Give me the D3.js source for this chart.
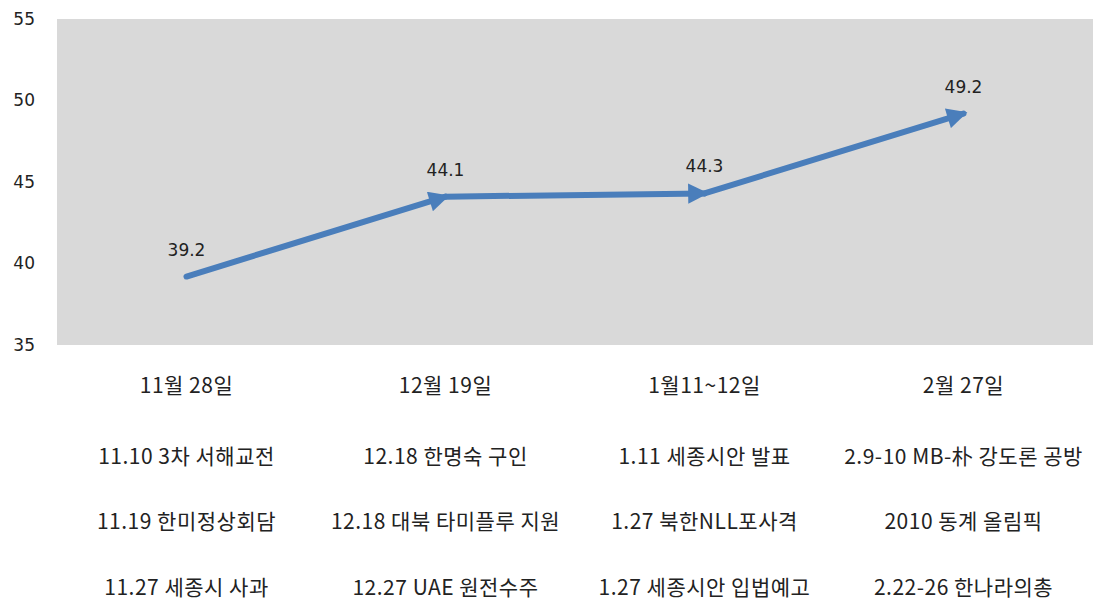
<!DOCTYPE html>
<html>
<head>
<meta charset="utf-8">
<script src="https://cdn.jsdelivr.net/npm/d3@7"></script>
<style>
  body { margin: 0; background: #fff; }
  svg text { font-family: "Noto Sans CJK KR", "Noto Sans", sans-serif; fill: #222; }
</style>
</head>
<body>
<svg id="chart" width="1093" height="603"></svg>
<script>
// 데이터
const categories = ["11월 28일", "12월 19일", "1월11~12일", "2월 27일"]
const values = [39.2, 44.1, 44.3, 49.2]
const events1 = ["11.10 3차 서해교전", "12.18 한명숙 구인", "1.11 세종시안 발표", "2.9-10 MB-朴 강도론 공방"]
const events2 = ["11.19 한미정상회담", "12.18 대북 타미플루 지원", "1.27 북한NLL포사격", "2010 동계 올림픽"]
const events3 = ["11.27 세종시 사과", "12.27 UAE 원전수주", "1.27 세종시안 입법예고", "2.22-26 한나라의총"]
const yTicks = [35, 40, 45, 50, 55]

const width = 1093, height = 603
const margin = { top: 19, right: 0, bottom: 258, left: 57 }
const svg = d3.select("#chart")

const xScale = d3.scaleBand()
    .domain(categories)
    .range([margin.left, width - margin.right])
const yScale = d3.scaleLinear()
    .domain([35, 55])
    .range([height - margin.bottom, margin.top])

// 배경
svg.append("rect")
    .attr("x", margin.left)
    .attr("y", margin.top)
    .attr("width", width - margin.left - margin.right)
    .attr("height", yScale(35) - yScale(55))
    .attr("fill", "#d9d9d9")

// y축
let yAxis = svg.append("g")
    .attr("transform", "translate(35,0)")
    .call(d3.axisLeft(yScale).tickValues(yTicks).tickSize(0).tickPadding(0))
yAxis.select(".domain").remove()
yAxis.selectAll("text").style("font-size", "17px").style("font-family", "'DejaVu Sans', sans-serif")

// 화살표
svg.append("defs").append("marker")
    .attr("id", "arrow")
    .attr("viewBox", "0 0 10 10")
    .attr("refX", 8)
    .attr("refY", 5)
    .attr("markerWidth", 3.8)
    .attr("markerHeight", 3.4)
    .attr("orient", "auto")
    .append("path")
    .attr("d", "M0,0 L10,5 L0,10 z")
    .attr("fill", "#4a7ebb")

const cx = d => xScale(d) + xScale.bandwidth() / 2
const pts = categories.map((c, i) => [cx(c), yScale(values[i])])

// 선분
svg.selectAll(".seg")
    .data(d3.pairs(pts))
    .enter()
    .append("line")
    .attr("class", "seg")
    .attr("x1", d => d[0][0])
    .attr("y1", d => d[0][1])
    .attr("x2", d => d[1][0])
    .attr("y2", d => d[1][1])
    .attr("stroke", "#4a7ebb")
    .attr("stroke-width", 6)
    .attr("stroke-linecap", "round")
    .attr("marker-end", "url(#arrow)")

// 값 라벨
svg.selectAll(".val")
    .data(values)
    .enter()
    .append("text")
    .attr("class", "val")
    .attr("x", (d, i) => cx(categories[i]))
    .attr("y", d => yScale(d) - 21)
    .attr("text-anchor", "middle")
    .style("font-size", "17px")
    .style("font-family", "'DejaVu Sans', sans-serif")
    .text(d => d)

// x축 라벨
const rows = [categories, events1, events2, events3]
const rowY = [393, 464, 529, 595]
rows.forEach((row, r) => {
    svg.selectAll(".row" + r)
        .data(row)
        .enter()
        .append("text")
        .attr("class", "row" + r)
        .attr("x", d => cx(categories[row.indexOf(d)]))
        .attr("y", rowY[r])
        .attr("text-anchor", "middle")
        .style("font-size", "21px")
        .style("letter-spacing", "0.5px")
        .text(d => d)
})
</script>
</body>
</html>
